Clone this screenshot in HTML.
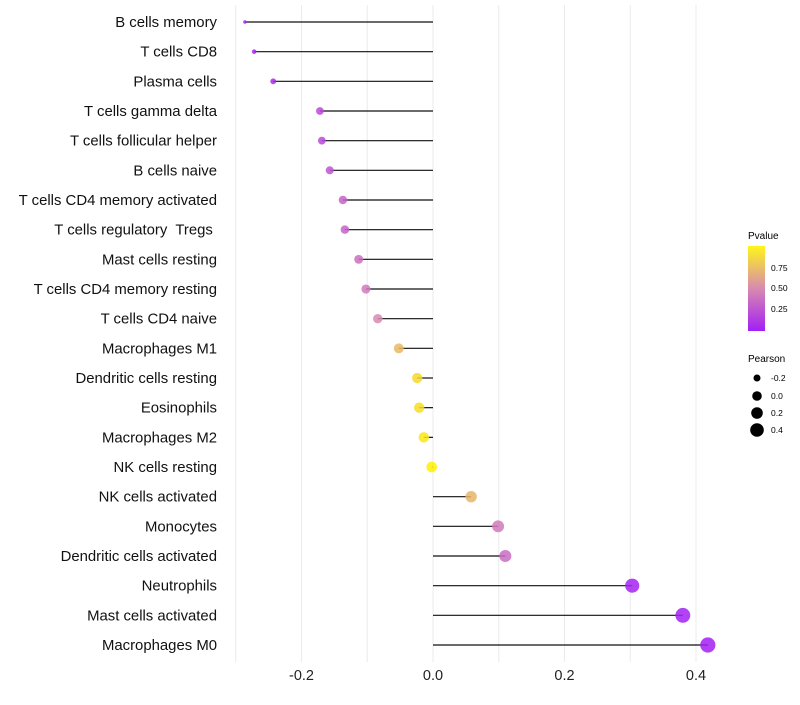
<!DOCTYPE html>
<html><head><meta charset="utf-8"><style>body{margin:0;background:#fff}svg{font-family:"Liberation Sans",sans-serif}</style></head>
<body>
<svg id="c" width="800" height="700">
<defs><linearGradient id="pg" x1="0" y1="1" x2="0" y2="0">
<stop offset="0" stop-color="#A31FF5"/><stop offset="0.5" stop-color="#D88AB0"/><stop offset="1" stop-color="#FFF51A"/></linearGradient></defs>
<g id="grid"></g><g id="marks"></g><g id="labels"></g>
<g>
<text x="748" y="239" font-size="10">Pvalue</text>
<rect x="748" y="246" width="17" height="85" fill="url(#pg)"/>
<text x="771" y="271" font-size="8.5">0.75</text>
<text x="771" y="291" font-size="8.5">0.50</text>
<text x="771" y="312" font-size="8.5">0.25</text>
<text x="748" y="362" font-size="10">Pearson</text>
<circle cx="757" cy="378" r="3.5" fill="#000"/>
<circle cx="757" cy="396" r="4.8" fill="#000"/>
<circle cx="757" cy="413" r="5.8" fill="#000"/>
<circle cx="757" cy="430" r="6.8" fill="#000"/>
<text x="771" y="381" font-size="8.5">-0.2</text>
<text x="771" y="399" font-size="8.5">0.0</text>
<text x="771" y="416" font-size="8.5">0.2</text>
<text x="771" y="433" font-size="8.5">0.4</text>
</g>
</svg>
<script>
const cells=["B cells memory","T cells CD8","Plasma cells","T cells gamma delta","T cells follicular helper","B cells naive","T cells CD4 memory activated","T cells regulatory  Tregs ","Mast cells resting","T cells CD4 memory resting","T cells CD4 naive","Macrophages M1","Dendritic cells resting","Eosinophils","Macrophages M2","NK cells resting","NK cells activated","Monocytes","Dendritic cells activated","Neutrophils","Mast cells activated","Macrophages M0"];
const pearson=[-0.286,-0.272,-0.243,-0.172,-0.169,-0.157,-0.137,-0.134,-0.113,-0.102,-0.084,-0.052,-0.024,-0.021,-0.014,-0.002,0.058,0.099,0.110,0.303,0.380,0.418];
const pvalue=[0.02,0.03,0.06,0.2,0.2,0.25,0.32,0.32,0.38,0.42,0.5,0.72,0.88,0.9,0.95,0.99,0.7,0.42,0.36,0.02,0.01,0.005];
const xTicks=[-0.2,0,0.2,0.4];
const xTickLabels=["-0.2","0.0","0.2","0.4"];
const NS="http://www.w3.org/2000/svg";
const X=v=>433+v*657.5;
const Y=i=>22+i*(645-22)/(cells.length-1);
const R=v=>1.3+7.5*Math.sqrt(Math.max(0,v+0.29));
function col(p){const s=[[163,31,245],[216,138,176],[255,242,0]];let t=p*2,a=s[0],b=s[1];if(t>1){t-=1;a=s[1];b=s[2];}return `rgb(${a.map((c,k)=>Math.round(c+(b[k]-c)*t)).join(',')})`;}
function mk(t,at,parent){const e=document.createElementNS(NS,t);for(const k in at)e.setAttribute(k,at[k]);document.getElementById(parent).appendChild(e);return e;}
for(let g=-0.3;g<=0.41;g+=0.1){const l=mk('line',{x1:X(g),x2:X(g),y1:5,y2:662,stroke:'#ebebeb','stroke-width':1},'grid');

}
xTicks.forEach((v,i)=>{const t=mk('text',{x:X(v),y:680,'font-size':14.5,'text-anchor':'middle',fill:'#222'},'labels');t.textContent=xTickLabels[i];

});
cells.forEach((c,i)=>{const y=Y(i);
const t=mk('text',{x:217,y:y+5,'font-size':14.9,'text-anchor':'end',fill:'#111',style:'white-space:pre'},'labels');t.textContent=c;


const l=mk('line',{x1:X(0),x2:X(pearson[i]),y1:y,y2:y,stroke:'#111','stroke-width':1.2},'marks');


const p=mk('circle',{cx:X(pearson[i]),cy:y,r:R(pearson[i]),fill:col(pvalue[i]),'fill-opacity':0.85},'marks');

});
</script>
</body></html>
